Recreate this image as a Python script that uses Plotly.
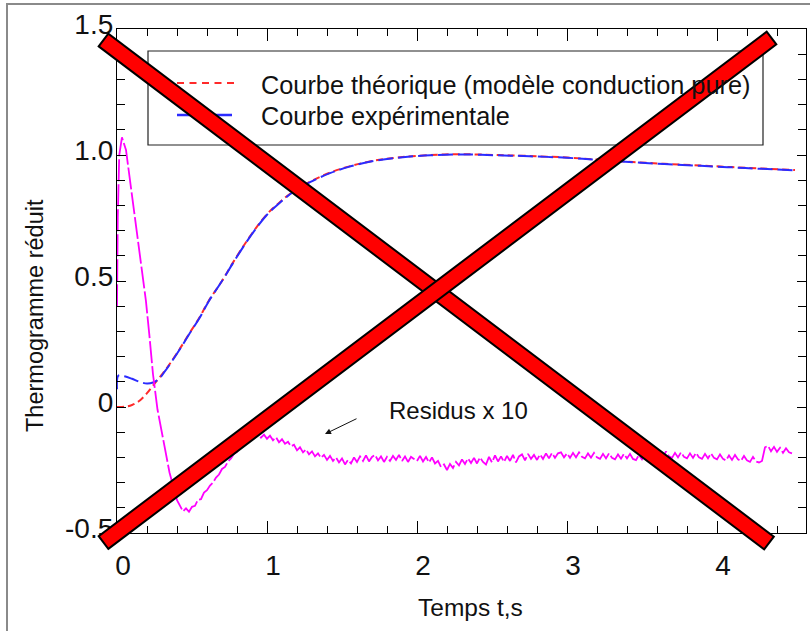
import numpy as np
import plotly.graph_objects as go

# ---------------- data ----------------
t_theo = [0.00, 0.05, 0.10, 0.15, 0.20, 0.24, 0.28, 0.32, 0.36, 0.42, 0.48, 0.55, 0.61,
          0.70, 0.77, 0.85, 0.92, 1.00, 1.08, 1.17, 1.29, 1.42, 1.55, 1.71, 1.87, 2.09,
          2.30, 2.53, 2.75, 3.00, 3.20, 3.44, 3.65, 3.89, 4.10, 4.30, 4.52]
y_theo = [0.000, 0.001, 0.008, 0.025, 0.055, 0.085, 0.115, 0.145, 0.178, 0.232, 0.290, 0.355, 0.420,
          0.500, 0.570, 0.645, 0.705, 0.765, 0.810, 0.853, 0.895, 0.930, 0.955, 0.977, 0.990, 1.000,
          1.003, 1.000, 0.996, 0.990, 0.982, 0.972, 0.965, 0.958, 0.952, 0.946, 0.940]

t_exp = [0.00, 0.01, 0.05, 0.10, 0.15, 0.20, 0.24, 0.28, 0.32, 0.36, 0.42, 0.48, 0.55, 0.61,
         0.70, 0.77, 0.85, 0.92, 1.00, 1.08, 1.17, 1.29, 1.42, 1.55, 1.71, 1.87, 2.09,
         2.30, 2.53, 2.75, 3.00, 3.20, 3.44, 3.65, 3.89, 4.10, 4.30, 4.52]
y_exp = [0.070, 0.125, 0.122, 0.112, 0.100, 0.093, 0.097, 0.112, 0.142, 0.176, 0.230, 0.288, 0.353, 0.418,
         0.500, 0.568, 0.643, 0.703, 0.763, 0.808, 0.851, 0.893, 0.928, 0.954, 0.976, 0.989, 0.999,
         1.002, 0.999, 0.995, 0.989, 0.981, 0.971, 0.964, 0.957, 0.951, 0.945, 0.939]

# residuals x 10 : early part (explicit times)
t_res_early = [0.000, 0.005, 0.015, 0.033, 0.060, 0.087, 0.110, 0.133, 0.155, 0.173, 0.193,
               0.215, 0.240, 0.270, 0.307, 0.350, 0.400]
y_res_early = [0.40, 0.75, 1.00, 1.07, 1.02, 0.90, 0.80, 0.70, 0.61, 0.52, 0.42,
               0.29, 0.13, -0.01, -0.13, -0.26, -0.37]

# residuals x 10 : sampled every 0.02 s from 0.42 s
res_start = 0.42
res_step = 0.02
y_res_sampled = [
    -0.392, -0.414, -0.402, -0.416, -0.396, -0.392, -0.368, -0.366, -0.340, -0.330, -0.312, -0.300,
    -0.280, -0.268, -0.246, -0.238, -0.216, -0.204, -0.186, -0.178, -0.158, -0.152, -0.134, -0.128,
    -0.104, -0.118, -0.106, -0.122, -0.110, -0.126, -0.114, -0.132, -0.120, -0.140, -0.128, -0.146,
    -0.138, -0.156, -0.150,
    -0.172, -0.160, -0.180, -0.168, -0.188, -0.176, -0.196, -0.184, -0.202, -0.190,
    -0.210, -0.194, -0.214, -0.200, -0.220, -0.204, -0.228, -0.210, -0.224, -0.200,
    -0.218, -0.196, -0.214, -0.192, -0.216, -0.198, -0.190, -0.212, -0.196, -0.218,
    -0.198, -0.214, -0.194, -0.210, -0.190, -0.214, -0.196, -0.218, -0.198, -0.206,
    -0.214, -0.194, -0.216, -0.198, -0.220, -0.200, -0.224, -0.214, -0.238, -0.228,
    -0.250, -0.226, -0.242, -0.218, -0.232, -0.208, -0.226, -0.204, -0.222, -0.202,
    -0.224, -0.200, -0.218, -0.228, -0.198, -0.220, -0.192, -0.216, -0.196, -0.218,
    -0.194, -0.214, -0.190, -0.220, -0.196, -0.188, -0.212, -0.186, -0.206, -0.190,
    -0.210, -0.188, -0.206, -0.184, -0.204, -0.182, -0.202, -0.184, -0.180, -0.200,
    -0.184, -0.202, -0.182, -0.200, -0.180, -0.198, -0.204, -0.184, -0.201, -0.182,
    -0.200, -0.206, -0.186, -0.204, -0.184, -0.202, -0.208, -0.188, -0.205, -0.186,
    -0.204, -0.186, -0.206, -0.211, -0.190, -0.208, -0.188, -0.205, -0.212, -0.192,
    -0.198, -0.180, -0.200, -0.176, -0.196, -0.202, -0.182, -0.200, -0.180, -0.198,
    -0.204, -0.184, -0.202, -0.182, -0.200, -0.206, -0.186, -0.204, -0.184, -0.202,
    -0.208, -0.188, -0.206, -0.212, -0.192, -0.210, -0.190, -0.208, -0.214, -0.194,
    -0.212, -0.218, -0.198, -0.216, -0.220, -0.214, -0.160, -0.154, -0.176, -0.158,
    -0.178, -0.162, -0.182, -0.164, -0.180, -0.184,
]
t_res_sampled = list(np.round(res_start + res_step * np.arange(len(y_res_sampled)), 3))

t_res = t_res_early + t_res_sampled
y_res = y_res_early + y_res_sampled

x_tickvals = [0, 1, 2, 3, 4]
x_ticktext = ["0", "1", "2", "3", "4"]
y_tickvals = [-0.5, 0, 0.5, 1.0, 1.5]
y_ticktext = ["-0.5", "0", "0.5", "1.0", "1.5"]

legend_labels = ["Courbe théorique (modèle conduction pure)", "Courbe expérimentale"]
x_title = "Temps t,s"
y_title = "Thermogramme réduit"
note_text = "Residus x 10"

# ---------------- layout geometry ----------------
W, H = 810, 631
L, R, T, B = 117, 806, 29, 533          # plot area in pixels
FONT = "Liberation Sans, Arial, sans-serif"


def px(x):
    return (x - L) / (R - L)


def py(y):
    return (B - y) / (B - T)


RED = "#ff2a2a"
BLUE = "#2b2bff"
MAG = "#ff00ff"

fig = go.Figure()
fig.add_trace(go.Scatter(x=t_theo, y=y_theo, mode="lines", line=dict(color=RED, width=2, dash="7px,4px"),
                         line_shape="spline", showlegend=False))
fig.add_trace(go.Scatter(x=t_exp, y=y_exp, mode="lines", line=dict(color=BLUE, width=2, dash="15px,5px"),
                         line_shape="spline", showlegend=False))
fig.add_trace(go.Scatter(x=t_res, y=y_res, mode="lines", line=dict(color=MAG, width=1.8, dash="22px,3px"),
                         showlegend=False))

shapes = []
# outer gray frame
shapes.append(dict(type="rect", xref="paper", yref="paper",
                   x0=px(7), y0=py(640), x1=px(830), y1=py(4),
                   line=dict(color="#8a8a8a", width=2), fillcolor="rgba(0,0,0,0)", layer="below"))
# legend box
shapes.append(dict(type="rect", xref="paper", yref="paper",
                   x0=px(148), y0=py(145), x1=px(763), y1=py(51),
                   line=dict(color="#222", width=1.2), fillcolor="white"))
shapes.append(dict(type="line", xref="paper", yref="paper",
                   x0=px(177), y0=py(83), x1=px(238), y1=py(83),
                   line=dict(color=RED, width=2, dash="7px,5.5px")))
shapes.append(dict(type="line", xref="paper", yref="paper",
                   x0=px(177), y0=py(115), x1=px(238), y1=py(115),
                   line=dict(color=BLUE, width=2.5, dash="19px,17px")))


def band(p0, p1, w):
    (x0, y0), (x1, y1) = p0, p1
    d = np.hypot(x1 - x0, y1 - y0)
    nx, ny = -(y1 - y0) / d * w / 2, (x1 - x0) / d * w / 2
    pts = [(x0 + nx, y0 + ny), (x1 + nx, y1 + ny), (x1 - nx, y1 - ny), (x0 - nx, y0 - ny)]
    return "M " + " L ".join(f"{px(a):.5f},{py(b):.5f}" for a, b in pts) + " Z"


for p0, p1 in [((103.5, 40), (769, 543)), ((103.5, 542.5), (771.5, 38))]:
    shapes.append(dict(type="path", xref="paper", yref="paper", path=band(p0, p1, 16),
                       fillcolor="#ff0000", line=dict(color="black", width=2)))

annotations = [
    dict(text=legend_labels[0], x=px(259), y=py(85), xref="paper", yref="paper", xanchor="left",
         yanchor="middle", showarrow=False, font=dict(family=FONT, size=25.3, color="#111")),
    dict(text=legend_labels[1], x=px(259), y=py(116), xref="paper", yref="paper", xanchor="left",
         yanchor="middle", showarrow=False, font=dict(family=FONT, size=25.3, color="#111")),
    dict(text=note_text, x=px(387), y=py(410), xref="paper", yref="paper", xanchor="left",
         yanchor="middle", showarrow=False, font=dict(family=FONT, size=24, color="#111")),
    dict(text="", x=px(325), y=py(434), xref="paper", yref="paper", ax=33, ay=-16,
         showarrow=True, arrowhead=2, arrowsize=1.2, arrowwidth=1, arrowcolor="#111", standoff=0),
    dict(text=x_title, x=px(470), y=py(607), xref="paper", yref="paper", xanchor="center",
         yanchor="middle", showarrow=False, font=dict(family=FONT, size=24.5, color="#111")),
    dict(text=y_title, x=px(35), y=py(316), xref="paper", yref="paper", xanchor="center",
         yanchor="middle", textangle=-90, showarrow=False, font=dict(family=FONT, size=23.5, color="#111")),
]

axis_common = dict(showline=True, linecolor="black", linewidth=1.2, mirror="ticks", showgrid=False,
                   zeroline=False, ticks="inside", tickcolor="black", tickwidth=1.2,
                   tickfont=dict(family=FONT, size=28, color="#111"))

fig.update_layout(
    width=W, height=H, margin=dict(l=L, r=W - R, t=T, b=H - B, pad=0),
    paper_bgcolor="white", plot_bgcolor="white", showlegend=False,
    xaxis=dict(range=[0, (R - L) / 150.0], tickmode="array", tickvals=x_tickvals, ticktext=x_ticktext,
               ticklen=12, ticklabelshift=6, ticklabelstandoff=7,
               minor=dict(tickmode="linear", tick0=0, dtick=0.2, ticks="inside", ticklen=7,
                          tickcolor="black", tickwidth=1.2),
               **axis_common),
    yaxis=dict(range=[-0.5, 1.5], tickmode="array", tickvals=y_tickvals, ticktext=y_ticktext,
               ticklen=9, ticklabelshift=-5, ticklabelstandoff=-3,
               minor=dict(tickmode="linear", tick0=0, dtick=0.1, ticks="inside", ticklen=8,
                          tickcolor="black", tickwidth=1.2),
               **axis_common),
    shapes=shapes, annotations=annotations,
)

fig.write_html("out.html")
